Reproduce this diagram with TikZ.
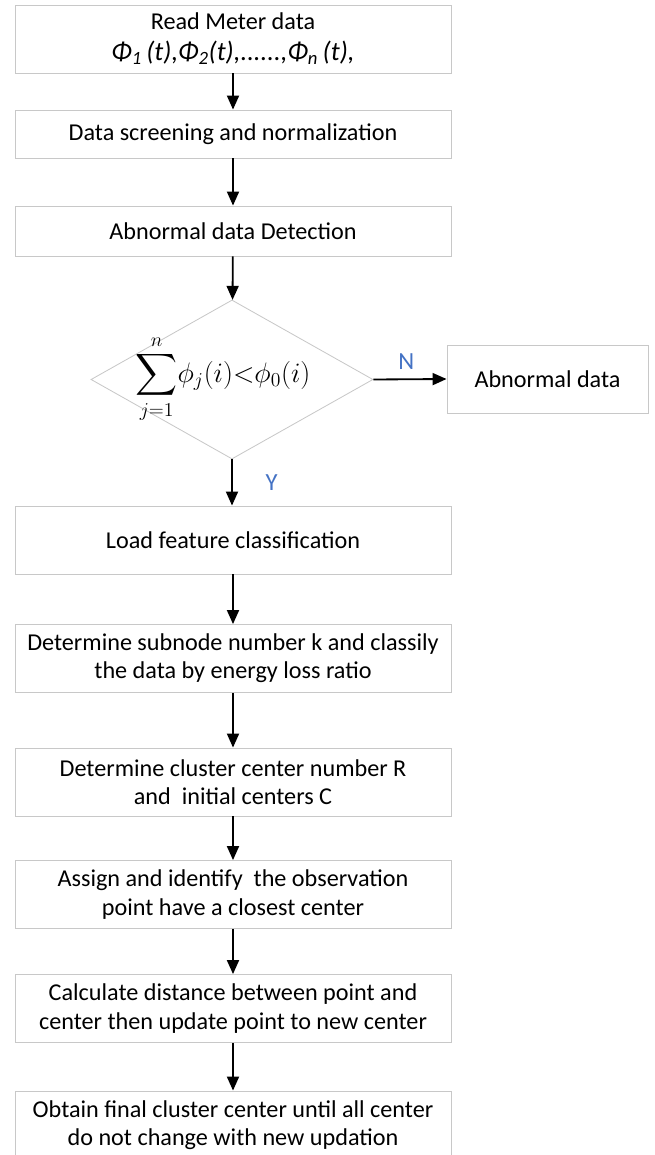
\documentclass[tikz,border=0pt]{standalone}
\usepackage{fix-cm}
\usepackage{amsmath}
\usepackage{fontspec}
\setmainfont{Carlito}
\usepackage{tikz}
\usetikzlibrary{shapes, arrows.meta, positioning}
\definecolor{boxgray}{RGB}{200,200,200}
\definecolor{ynblue}{RGB}{68,114,196}

\tikzset{
  stepbox/.style={draw=boxgray, line width=0.6pt, minimum width=10.9cm, minimum height=1.7cm,
    align=center, inner sep=2pt, font=\fontsize{17.2}{20}\selectfont},
  decision/.style={draw=boxgray, line width=0.6pt, diamond, minimum width=7.05cm, minimum height=3.975cm, inner sep=0pt},
  flow/.style={-{Triangle[length=0.35cm,width=0.3cm]}, line width=1.3pt},
  yn/.style={text=ynblue, font=\fontsize{17.5}{20}\selectfont}
}

\begin{document}
\begin{tikzpicture}[x=0.025cm, y=-0.025cm]
        \useasboundingbox (0,0) rectangle (655,1155);
        % Nodes
        \node[stepbox] (read) at (233,39) {Read Meter data\\[2pt]
          {\fontsize{19}{22}\selectfont\itshape Φ\textsubscript{1}\,(t),Φ\textsubscript{2}(t),......,Φ\textsubscript{n}\,(t),}};
        \node[stepbox, minimum height=1.2cm] (screen) at (233,134) {Data screening and normalization};
        \node[stepbox, minimum height=1.25cm] (detect) at (233,231) {Abnormal data Detection};
        \node[decision] (check) at (232,379.5) {};
        \node (cond) at (223,379) {\fontsize{20}{24}\selectfont $\displaystyle\sum_{j=1}^{n}\!\phi_j(i)\mathord{<}\phi_0(i)$};
        \node[stepbox, minimum width=5.025cm] (abn) at (547.5,379) {Abnormal data};
        \node[stepbox] (load) at (233,540) {Load feature classification};
        \node[stepbox] (subnode) at (233,658.5) {Determine subnode number k and classily\\the data by energy loss ratio};
        \node[stepbox] (cluster) at (233,782) {Determine cluster center number R\\and~ initial centers C};
        \node[stepbox] (assign) at (233,894.5) {Assign and identify~ the observation\\point have a closest center};
        \node[stepbox] (calc) at (233,1008.5) {Calculate distance between point and\\center then update point to new center};
        \node[stepbox] (obtain) at (233,1125) {Obtain final cluster center until all center\\do not change with new updation};

        % Arrows
        \draw[flow] (read) -- (screen);
        \draw[flow] (screen) -- (detect);
        \draw[flow] (detect) -- (check);
        \draw[flow] (check.east) -- node[yn, above, pos=0.45, yshift=3pt] {N} (abn.west);
        \draw[flow] (check.south) -- node[yn, right, xshift=20pt] {Y} (load.north -| check.south);
        \draw[flow] (load) -- (subnode);
        \draw[flow] (subnode) -- (cluster);
        \draw[flow] (cluster) -- (assign);
        \draw[flow] (assign) -- (calc);
        \draw[flow] (calc) -- (obtain);
    \end{tikzpicture}
\end{document}
